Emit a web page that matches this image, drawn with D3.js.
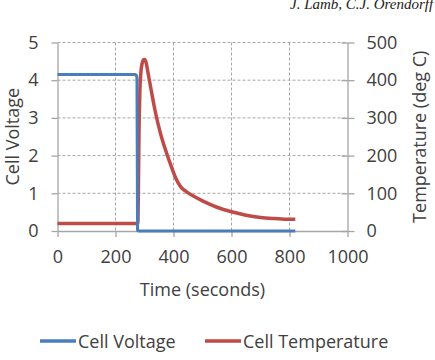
<!DOCTYPE html>
<html><head><meta charset="utf-8">
<script src="https://cdn.jsdelivr.net/npm/d3@7"></script>
<style>
html,body{margin:0;padding:0;background:#fff;}
svg{display:block;}
text{font-family:"Open Sans",sans-serif;fill:#404040;}
</style></head>
<body>
<svg id="chart" width="435" height="360"></svg>
<script>
// Data
const xTicks = [0, 200, 400, 600, 800, 1000];
const voltTicks = [0, 1, 2, 3, 4, 5];
const tempTicks = [0, 100, 200, 300, 400, 500];
const voltTime = [0, 268, 272, 274, 276, 280, 820];
const voltValue = [4.15, 4.15, 4.13, 4.05, 0.02, 0, 0];
const tempTime = [0, 277, 279, 281, 284, 288, 293, 298, 301, 305, 312, 322, 335, 348, 362, 376, 392, 408, 425, 445, 470, 500, 550, 600, 650, 700, 750, 800, 820];
const tempValue = [20, 20, 120, 260, 370, 425, 448, 455, 455, 448, 420, 378, 325, 280, 240, 207, 172, 140, 117, 104, 92, 80, 63, 51, 42, 36, 33, 31, 31];
const seriesNames = ["Cell Voltage", "Cell Temperature"];
const colors = ["#4a7ebb", "#be4b48"];

const svg = d3.select("#chart");
const L = 57.5, R = 347.5, T = 42.5, B = 231;
const x = d3.scaleLinear().domain([0, 1000]).range([L, R]);
const yV = d3.scaleLinear().domain([0, 5]).range([B, T]);
const yT = d3.scaleLinear().domain([0, 500]).range([B, T]);
const fmt = d3.format("d");

// header text (cropped at top, as in the source page)
svg.append("text").attr("x", 290).attr("y", 9)
  .style("font-family", "'Liberation Serif',serif").style("font-style", "italic")
  .style("font-size", "15px").style("fill", "#222")
  .text("J. Lamb, C.J. Orendorff / J");

// grid
const grid = svg.append("g");
grid.selectAll("line.h").data(voltTicks.filter(d => d > 0)).join("line")
  .attr("x1", L).attr("x2", R).attr("y1", d => yV(d)).attr("y2", d => yV(d))
  .attr("stroke", "#a6a6a6").attr("stroke-dasharray", "3,2").attr("stroke-width", 1);
grid.selectAll("line.v").data(xTicks.filter(d => d > 0 && d < 1000)).join("line")
  .attr("x1", d => x(d)).attr("x2", d => x(d)).attr("y1", T).attr("y2", B)
  .attr("stroke", "#a6a6a6").attr("stroke-dasharray", "3,2").attr("stroke-width", 1);

function styleAxis(g) {
  g.select(".domain").attr("stroke", "#a6a6a6").attr("stroke-width", 1.3);
  g.selectAll(".tick line").attr("stroke", "#a6a6a6").attr("stroke-width", 1.3);
  g.selectAll(".tick text").style("font-family", "'Open Sans',sans-serif").style("font-size", "18px").attr("fill", "#404040");
}
const gx = svg.append("g").attr("transform", `translate(0,${B})`)
  .call(d3.axisBottom(x).tickValues(xTicks).tickFormat(fmt).tickSize(6).tickPadding(13).tickSizeOuter(0));
styleAxis(gx);
const gl = svg.append("g").attr("transform", `translate(${L},0)`)
  .call(d3.axisLeft(yV).tickValues(voltTicks).tickFormat(fmt).tickSize(6).tickPadding(13).tickSizeOuter(0));
styleAxis(gl);
const gr = svg.append("g").attr("transform", `translate(${R},0)`)
  .call(d3.axisRight(yT).tickValues(tempTicks).tickFormat(fmt).tickSize(7).tickPadding(12).tickSizeOuter(0));
styleAxis(gr);
gr.selectAll(".tick line").attr("x1", -6);

// lines
const lineV = d3.line().x((d, i) => x(voltTime[i])).y(d => yV(d));
const lineT = d3.line().x((d, i) => x(tempTime[i])).y(d => yT(d)).curve(d3.curveMonotoneX);
svg.append("path").datum(tempValue).attr("d", lineT).attr("fill", "none")
  .attr("stroke", colors[1]).attr("stroke-width", 3.5).attr("stroke-linejoin", "round");
svg.append("path").datum(voltValue).attr("d", lineV).attr("fill", "none")
  .attr("stroke", colors[0]).attr("stroke-width", 3).attr("stroke-linejoin", "round");

// axis titles
svg.append("text").attr("x", (L + R) / 2).attr("y", 296).attr("text-anchor", "middle")
  .style("font-size", "18px").text("Time (seconds)");
svg.append("text").attr("transform", `translate(19,${(T + B) / 2}) rotate(-90)`).attr("text-anchor", "middle")
  .style("font-size", "18px").text("Cell Voltage");
svg.append("text").attr("transform", `translate(426,${(T + B) / 2}) rotate(-90)`).attr("text-anchor", "middle")
  .style("font-size", "18px").text("Temperature (deg C)");

// legend
const leg = svg.append("g");
const legX = [40, 205];
seriesNames.forEach((n, i) => {
  leg.append("line").attr("x1", legX[i]).attr("x2", legX[i] + 36).attr("y1", 341).attr("y2", 341)
    .attr("stroke", colors[i]).attr("stroke-width", 3.5);
  leg.append("text").attr("x", legX[i] + 38).attr("y", 347.5).style("font-size", "18px").text(n);
});
</script>
</body></html>
